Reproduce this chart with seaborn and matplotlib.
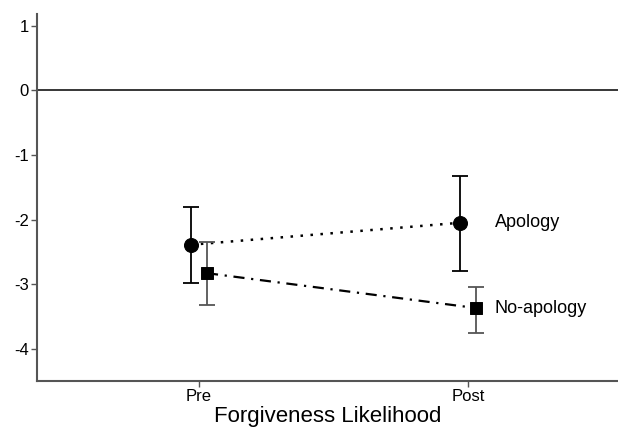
import numpy as np
import pandas as pd
import matplotlib
matplotlib.use("Agg")
import matplotlib.pyplot as plt
import seaborn as sns

# Data
times = ["Pre", "Post"]
conditions = ["Apology", "No-apology"]
apology_mean = [-2.39, -2.05]
apology_low = [-2.99, -2.80]
apology_high = [-1.81, -1.33]
noapology_mean = [-2.83, -3.37]
noapology_low = [-3.32, -3.75]
noapology_high = [-2.35, -3.04]
yticks = [1, 0, -1, -2, -3, -4]

sns.set_theme(style="white")
plt.rcParams['font.family'] = ['Liberation Sans', 'DejaVu Sans']
plt.rcParams['text.color'] = 'black'
plt.rcParams['axes.labelcolor'] = 'black'
plt.rcParams['xtick.color'] = 'black'
plt.rcParams['ytick.color'] = 'black'

fig = plt.figure(figsize=(6.18, 4.28), dpi=100)
ax = fig.add_axes([0.0599, 0.1098, 0.9401, 0.857])

offsets = {"Apology": -0.03, "No-apology": 0.03}
styles = {
    "Apology": dict(marker="o", ms=10, ls=(0, (1, 3)), color="black", ecolor="black", lw=1.8),
    "No-apology": dict(marker="s", ms=8.5, ls=(0, (5, 3, 1, 3)), color="black", ecolor="#555555", lw=1.6),
}
series = {
    "Apology": (apology_mean, apology_low, apology_high),
    "No-apology": (noapology_mean, noapology_low, noapology_high),
}

rows = []
for c in conditions:
    m, lo, hi = series[c]
    for i, t in enumerate(times):
        rows.append(dict(cond=c, time=t, x=i + offsets[c], mean=m[i], lo=lo[i], hi=hi[i]))
df = pd.DataFrame(rows)

for c in conditions:
    d = df[df.cond == c]
    st = styles[c]
    sns.lineplot(data=d, x="x", y="mean", ax=ax, color=st["color"], lw=st["lw"],
                 linestyle=st["ls"], marker=None, legend=False, zorder=2)
    ax.errorbar(d["x"], d["mean"], yerr=[d["mean"] - d["lo"], d["hi"] - d["mean"]],
                fmt="none", ecolor=st["ecolor"], elinewidth=1.3, capsize=6, capthick=1.3, zorder=3)
    sns.scatterplot(x=d["x"], y=d["mean"], ax=ax, marker=st["marker"], s=st["ms"] ** 2,
                    color="black", edgecolor="black", zorder=4, legend=False)

ax.axhline(0, color="black", lw=1.1, zorder=1)

ax.text(1.10, apology_mean[1], "Apology", fontsize=13, va="center", ha="left", color="black")
ax.text(1.10, noapology_mean[1], "No-apology", fontsize=13, va="center", ha="left", color="black")

ax.set_xlim(-0.602, 1.558)
ax.set_ylim(-4.5, 1.18)
ax.set_xticks(range(len(times)))
ax.set_xticklabels(times, fontsize=12)
ax.set_yticks(yticks)
ax.set_yticklabels([str(v) for v in yticks], fontsize=12)
ax.set_xlabel("Forgiveness Likelihood", fontsize=16, labelpad=1, color="black")
ax.set_ylabel("")

for s in ["top", "right"]:
    ax.spines[s].set_visible(False)
for s in ["left", "bottom"]:
    ax.spines[s].set_color("#555555")
    ax.spines[s].set_linewidth(1.5)
ax.tick_params(axis="both", which="both", length=4, width=1, color="#555555",
               direction="out", bottom=True, left=True, pad=2, labelcolor="black")

fig.savefig("out.png", dpi=100)
